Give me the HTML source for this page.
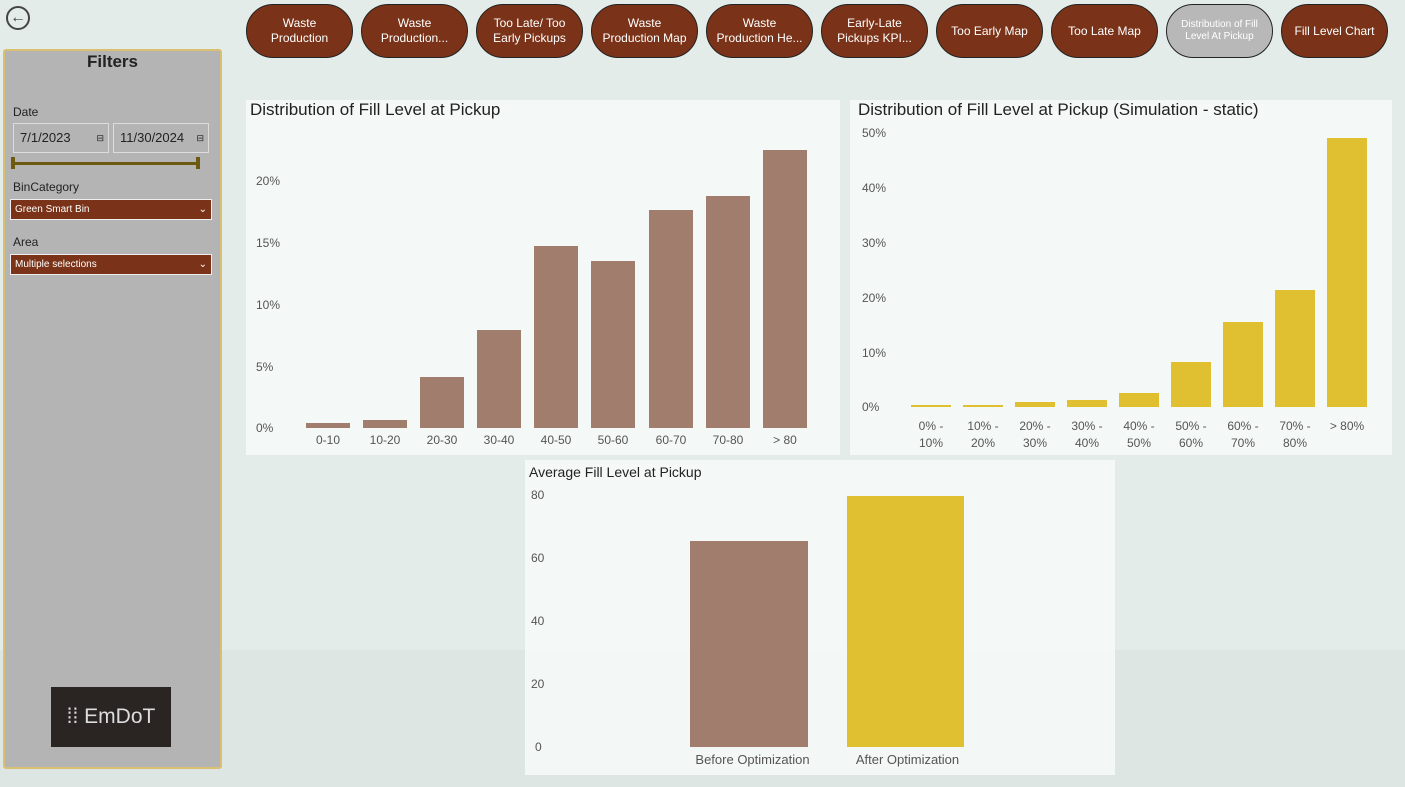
<!DOCTYPE html><html><head><style>
body{margin:0;width:1405px;height:787px;overflow:hidden;background:#e4ecea;font-family:"Liberation Sans",sans-serif;position:relative}
.a{position:absolute}
.btn{position:absolute;top:4px;width:105px;height:52px;border:1.5px solid #222;border-radius:27px;background:#7a3318;color:#fff;font-size:12px;display:flex;align-items:center;justify-content:center;text-align:center;line-height:15px}
.panel{position:absolute;background:rgba(250,252,251,0.75)}
.t{position:absolute;font-size:12px;color:#555}
.b1{position:absolute;background:#a07d6c}
.b2{position:absolute;background:#e0c030}
</style></head><body>
<div class="a" style="left:0;top:650px;width:1405px;height:137px;background:#dde6e3"></div>
<div class="a" style="left:6px;top:6px;width:20px;height:20px;border:2px solid #444;border-radius:50%;font-size:16px;line-height:20px;text-align:center;color:#444">←</div>
<div class="btn" style="left:246px">Waste<br>Production</div>
<div class="btn" style="left:361px">Waste<br>Production...</div>
<div class="btn" style="left:476px">Too Late/ Too<br>Early Pickups</div>
<div class="btn" style="left:591px">Waste<br>Production Map</div>
<div class="btn" style="left:706px">Waste<br>Production He...</div>
<div class="btn" style="left:821px">Early-Late<br>Pickups KPI...</div>
<div class="btn" style="left:936px">Too Early Map</div>
<div class="btn" style="left:1051px">Too Late Map</div>
<div class="btn" style="left:1166px;background:#b8b8b8;font-size:10px;line-height:12px">Distribution of Fill<br>Level At Pickup</div>
<div class="btn" style="left:1281px">Fill Level Chart</div>

<div class="a" style="left:3px;top:49px;width:215px;height:716px;background:#b3b4b3;border:2px solid #d8c070;border-radius:3px"></div>
<div class="a" style="left:3px;top:52px;width:219px;text-align:center;font-size:17px;font-weight:bold;color:#222">Filters</div>
<div class="a" style="left:13px;top:105px;font-size:12px;color:#222">Date</div>
<div class="a" style="left:13px;top:123px;width:94px;height:28px;border:1px solid #ddd;font-size:13px;line-height:28px;text-indent:6px;color:#222">7/1/2023<span style="position:absolute;right:4px;font-size:9px">⊟</span></div>
<div class="a" style="left:113px;top:123px;width:94px;height:28px;border:1px solid #ddd;font-size:13px;line-height:28px;text-indent:6px;color:#222">11/30/2024<span style="position:absolute;right:4px;font-size:9px">⊟</span></div>
<div class="a" style="left:13px;top:162px;width:186px;height:3px;background:#6b5a10"></div>
<div class="a" style="left:11px;top:157px;width:4px;height:12px;background:#6b5a10"></div>
<div class="a" style="left:196px;top:157px;width:4px;height:12px;background:#6b5a10"></div>
<div class="a" style="left:13px;top:180px;font-size:12px;color:#222">BinCategory</div>
<div class="a" style="left:10px;top:199px;width:200px;height:19px;background:#7a3318;border:1px solid #eee;color:#fff;font-size:10px;line-height:19px;text-indent:4px">Green Smart Bin<span style="position:absolute;right:4px">⌄</span></div>
<div class="a" style="left:13px;top:235px;font-size:12px;color:#222">Area</div>
<div class="a" style="left:10px;top:254px;width:200px;height:19px;background:#7a3318;border:1px solid #eee;color:#fff;font-size:10px;line-height:19px;text-indent:4px">Multiple selections<span style="position:absolute;right:4px">⌄</span></div>
<div class="a" style="left:51px;top:687px;width:120px;height:60px;background:#2a2422;color:#ddd;font-size:21px;line-height:60px;text-align:center">⁞⁞ EmDoT</div>

<div class="panel" style="left:246px;top:100px;width:594px;height:355px"></div>
<div class="a" style="left:250px;top:100px;font-size:17px;color:#222">Distribution of Fill Level at Pickup</div>
<div class="t" style="left:256px;top:174px">20%</div><div class="t" style="left:256px;top:236px">15%</div><div class="t" style="left:256px;top:298px">10%</div><div class="t" style="left:256px;top:360px">5%</div><div class="t" style="left:256px;top:421px">0%</div>
<div class="b1" style="left:306px;top:423px;width:44px;height:5px"></div>
<div class="b1" style="left:363px;top:420px;width:44px;height:8px"></div>
<div class="b1" style="left:420px;top:377px;width:44px;height:51px"></div>
<div class="b1" style="left:477px;top:330px;width:44px;height:98px"></div>
<div class="b1" style="left:534px;top:246px;width:44px;height:182px"></div>
<div class="b1" style="left:591px;top:261px;width:44px;height:167px"></div>
<div class="b1" style="left:649px;top:210px;width:44px;height:218px"></div>
<div class="b1" style="left:706px;top:196px;width:44px;height:232px"></div>
<div class="b1" style="left:763px;top:150px;width:44px;height:278px"></div>
<div class="t" style="left:300px;top:433px;width:56px;text-align:center">0-10</div>
<div class="t" style="left:357px;top:433px;width:56px;text-align:center">10-20</div>
<div class="t" style="left:414px;top:433px;width:56px;text-align:center">20-30</div>
<div class="t" style="left:471px;top:433px;width:56px;text-align:center">30-40</div>
<div class="t" style="left:528px;top:433px;width:56px;text-align:center">40-50</div>
<div class="t" style="left:585px;top:433px;width:56px;text-align:center">50-60</div>
<div class="t" style="left:643px;top:433px;width:56px;text-align:center">60-70</div>
<div class="t" style="left:700px;top:433px;width:56px;text-align:center">70-80</div>
<div class="t" style="left:757px;top:433px;width:56px;text-align:center">&gt; 80</div>

<div class="panel" style="left:850px;top:100px;width:542px;height:355px"></div>
<div class="a" style="left:858px;top:100px;font-size:17px;color:#222">Distribution of Fill Level at Pickup (Simulation - static)</div>
<div class="t" style="left:862px;top:126px">50%</div><div class="t" style="left:862px;top:181px">40%</div><div class="t" style="left:862px;top:236px">30%</div><div class="t" style="left:862px;top:291px">20%</div><div class="t" style="left:862px;top:346px">10%</div><div class="t" style="left:862px;top:400px">0%</div>
<div class="b2" style="left:911px;top:405px;width:40px;height:2px"></div>
<div class="b2" style="left:963px;top:405px;width:40px;height:2px"></div>
<div class="b2" style="left:1015px;top:402px;width:40px;height:5px"></div>
<div class="b2" style="left:1067px;top:400px;width:40px;height:7px"></div>
<div class="b2" style="left:1119px;top:393px;width:40px;height:14px"></div>
<div class="b2" style="left:1171px;top:362px;width:40px;height:45px"></div>
<div class="b2" style="left:1223px;top:322px;width:40px;height:85px"></div>
<div class="b2" style="left:1275px;top:290px;width:40px;height:117px"></div>
<div class="b2" style="left:1327px;top:138px;width:40px;height:269px"></div>
<div class="t" style="left:906px;top:418px;width:50px;text-align:center;line-height:17px">0% -<br>10%</div>
<div class="t" style="left:958px;top:418px;width:50px;text-align:center;line-height:17px">10% -<br>20%</div>
<div class="t" style="left:1010px;top:418px;width:50px;text-align:center;line-height:17px">20% -<br>30%</div>
<div class="t" style="left:1062px;top:418px;width:50px;text-align:center;line-height:17px">30% -<br>40%</div>
<div class="t" style="left:1114px;top:418px;width:50px;text-align:center;line-height:17px">40% -<br>50%</div>
<div class="t" style="left:1166px;top:418px;width:50px;text-align:center;line-height:17px">50% -<br>60%</div>
<div class="t" style="left:1218px;top:418px;width:50px;text-align:center;line-height:17px">60% -<br>70%</div>
<div class="t" style="left:1270px;top:418px;width:50px;text-align:center;line-height:17px">70% -<br>80%</div>
<div class="t" style="left:1322px;top:418px;width:50px;text-align:center;line-height:17px">&gt; 80%</div>

<div class="panel" style="left:525px;top:460px;width:590px;height:315px"></div>
<div class="a" style="left:529px;top:464px;font-size:14px;color:#222">Average Fill Level at Pickup</div>
<div class="t" style="left:531px;top:488px">80</div><div class="t" style="left:531px;top:551px">60</div><div class="t" style="left:531px;top:614px">40</div><div class="t" style="left:531px;top:677px">20</div><div class="t" style="left:535px;top:740px">0</div>
<div class="b1" style="left:690px;top:541px;width:118px;height:206px"></div>
<div class="b2" style="left:847px;top:496px;width:117px;height:251px"></div>
<div class="t" style="left:680px;top:752px;width:145px;text-align:center;font-size:13px">Before Optimization</div>
<div class="t" style="left:835px;top:752px;width:145px;text-align:center;font-size:13px">After Optimization</div>
</body></html>
